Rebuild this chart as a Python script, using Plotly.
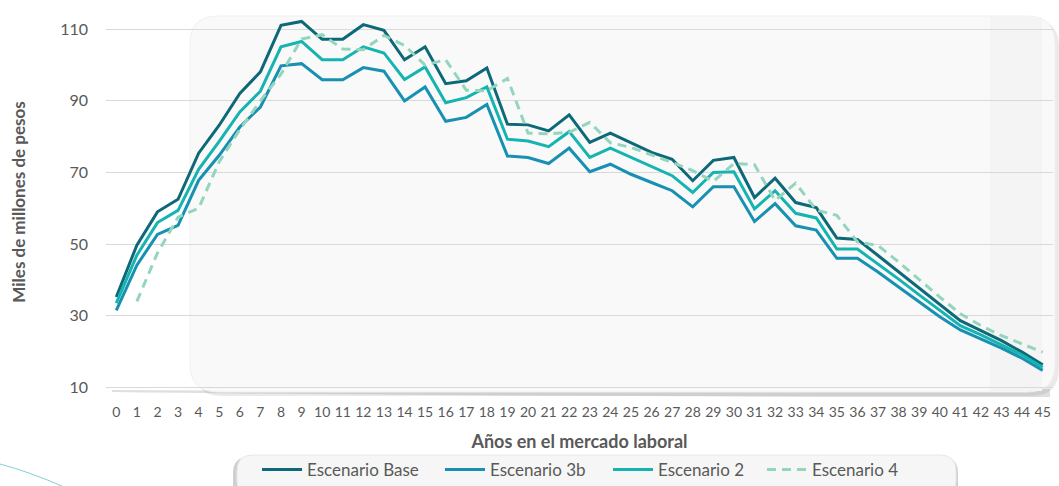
import plotly.graph_objects as go

years = list(range(0, 46))
tick_labels = [str(y) for y in years]

esc_base = [35.2, 49.7, 59.0, 62.5, 75.4, 83.2, 92.1, 98.1, 111.1, 112.2,
            107.2, 107.2, 111.3, 109.7, 101.5, 105.1, 94.8, 95.6, 99.2, 83.5,
            83.3, 81.6, 86.1, 78.4, 81.0, 78.4, 75.6, 73.7, 67.7, 73.4,
            74.2, 63.0, 68.4, 61.6, 60.2, 51.7, 51.3, 46.8, 42.2, 37.6,
            33.0, 28.6, 25.8, 23.0, 19.8, 16.3]
esc_3b = [31.5, 44.1, 52.7, 55.2, 67.8, 74.8, 82.7, 88.3, 99.8, 100.4,
          95.9, 95.9, 99.3, 98.3, 90.0, 93.9, 84.3, 85.4, 89.0, 74.6,
          74.2, 72.5, 76.8, 70.2, 72.3, 69.5, 67.2, 64.9, 60.4, 66.0,
          66.0, 56.3, 61.3, 55.1, 53.9, 46.0, 46.0, 42.2, 38.0, 33.8,
          29.7, 26.0, 23.5, 20.9, 18.1, 14.7]
esc_2 = [33.5, 46.9, 56.0, 59.4, 70.9, 78.7, 86.9, 92.7, 105.1, 106.6,
         101.5, 101.5, 105.1, 103.4, 96.0, 99.5, 89.5, 90.9, 93.9, 79.3,
         78.8, 77.2, 81.4, 74.2, 76.8, 74.2, 71.6, 69.1, 64.4, 70.0,
         70.2, 59.8, 64.9, 58.6, 57.3, 48.6, 48.6, 44.5, 40.2, 35.8,
         31.4, 27.2, 24.6, 21.9, 19.0, 15.6]
esc_4 = [None, 34.0, 47.5, 57.5, 60.0, 73.0, 82.0, 90.0, 97.5, 107.3,
         108.5, 104.5, 104.3, 108.3, 105.5, 100.0, 101.5, 93.0, 92.8, 96.3,
         81.0, 80.8, 81.2, 84.0, 78.3, 77.0, 75.0, 72.8, 70.5, 67.5,
         72.5, 72.2, 62.2, 67.0, 59.5, 58.0, 50.6, 49.6, 45.0, 40.0,
         35.2, 30.5, 27.2, 24.4, 22.1, 19.8]

y_ticks = [10, 30, 50, 70, 90, 110]

W, H = 1059, 486
ML, MR, MT, MB = 106, 6, 15, 97
PW = W - ML - MR
PH = H - MT - MB


def px(xp):
    return (xp - ML) / PW


def py(yp):
    return (H - MB - yp) / PH


def rrect(x0, y0, x1, y1, r):
    a0, a1 = px(x0), px(x1)
    b0, b1 = py(y1), py(y0)
    rx, ry = r / PW, r / PH
    return (f"M {a0+rx},{b1} L {a1-rx},{b1} Q {a1},{b1} {a1},{b1-ry} "
            f"L {a1},{b0+ry} Q {a1},{b0} {a1-rx},{b0} L {a0+rx},{b0} "
            f"Q {a0},{b0} {a0},{b0+ry} L {a0},{b1-ry} Q {a0},{b1} {a0+rx},{b1} Z")


FONT = "Lato, 'Open Sans', sans-serif"
GRAY = "#595959"

fig = go.Figure()
series = [
    ("Escenario Base", esc_base, "#0d6878", "solid", "legend", 257),
    ("Escenario 3b", esc_3b, "#1790b2", "solid", "legend2", 440),
    ("Escenario 2", esc_2, "#15b4b1", "solid", "legend3", 608),
    ("Escenario 4", esc_4, "#94d5bd", "9px,6px", "legend4", 762),
]
for name, vals, col, dash, lg, _ in series:
    fig.add_trace(go.Scatter(
        x=years, y=vals, name=name, mode="lines",
        line=dict(color=col, width=3, dash=dash),
        connectgaps=False, legend=lg,
    ))

shapes = []
shapes.append(dict(type="path", xref="paper", yref="paper", layer="below",
                   path=(f"M {px(112)},{py(390)} Q {px(500)},{py(392)} {px(1050)},{py(389)} "
                         f"L {px(1050)},{py(397)} Q {px(500)},{py(397)} {px(112)},{py(392)} Z"),
                   fillcolor="rgba(110,110,110,0.22)", line=dict(width=0)))
shapes.append(dict(type="path", xref="paper", yref="paper", layer="below",
                   path=rrect(194, 19, 1059, 396, 28),
                   fillcolor="rgba(140,140,140,0.18)", line=dict(width=0)))
shapes.append(dict(type="path", xref="paper", yref="paper", layer="below",
                   path=rrect(190, 16, 1055, 392, 28),
                   fillcolor="#f9f9f9", line=dict(color="#f0f0f0", width=1)))
shapes.append(dict(type="rect", xref="paper", yref="paper", layer="below",
                   x0=px(990), x1=px(1042), y0=py(391), y1=py(17),
                   fillcolor="#f4f4f4", line=dict(width=0)))
shapes.append(dict(type="path", xref="paper", yref="paper", layer="below",
                   path=rrect(233, 457, 958, 500, 16),
                   fillcolor="rgba(120,120,120,0.35)", line=dict(width=0)))
shapes.append(dict(type="path", xref="paper", yref="paper", layer="below",
                   path=rrect(237, 455, 956, 497, 16),
                   fillcolor="#f6f6f6", line=dict(color="#e8e8e8", width=1)))
shapes.append(dict(type="path", xref="paper", yref="paper", layer="below",
                   path=f"M {px(0)},{py(464)} Q {px(30)},{py(472)} {px(64)},{py(487)}",
                   line=dict(color="#7fd0d8", width=1)))

legend_common = dict(orientation="h", xanchor="left", yref="container",
                     y=0.033, yanchor="middle", bgcolor="rgba(0,0,0,0)",
                     font=dict(size=17, color=GRAY), itemwidth=40)
legends = {}
for _, _, _, _, lg, xpix in series:
    legends[lg] = dict(legend_common, x=px(xpix))

fig.update_layout(
    width=W, height=H,
    margin=dict(l=ML, r=MR, t=MT, b=MB, autoexpand=False),
    paper_bgcolor="white",
    plot_bgcolor="rgba(0,0,0,0)",
    font=dict(family=FONT, color=GRAY),
    shapes=shapes,
    showlegend=True,
    xaxis=dict(range=[-0.5, 45.5], tickmode="array", tickvals=years,
               ticktext=tick_labels, showgrid=False, zeroline=False,
               showline=False, ticks="", automargin=False,
               ticklabelstandoff=13,
               tickfont=dict(size=14, color=GRAY),
               title=dict(text="<b>Años en el mercado laboral</b>",
                          font=dict(size=18, color=GRAY), standoff=24)),
    yaxis=dict(range=[9.5, 114], tickmode="array", tickvals=y_ticks,
               showgrid=True, gridcolor="#d9d9d9", gridwidth=1,
               zeroline=False, showline=False, ticks="", automargin=False,
               ticklabelstandoff=17,
               tickfont=dict(size=16, color=GRAY),
               title=dict(text="<b>Miles de millones de pesos</b>",
                          font=dict(size=17, color=GRAY), standoff=30)),
    **legends,
)

fig.write_html("out.html", config={"displayModeBar": False},
               post_script="document.body.style.margin='0';")
